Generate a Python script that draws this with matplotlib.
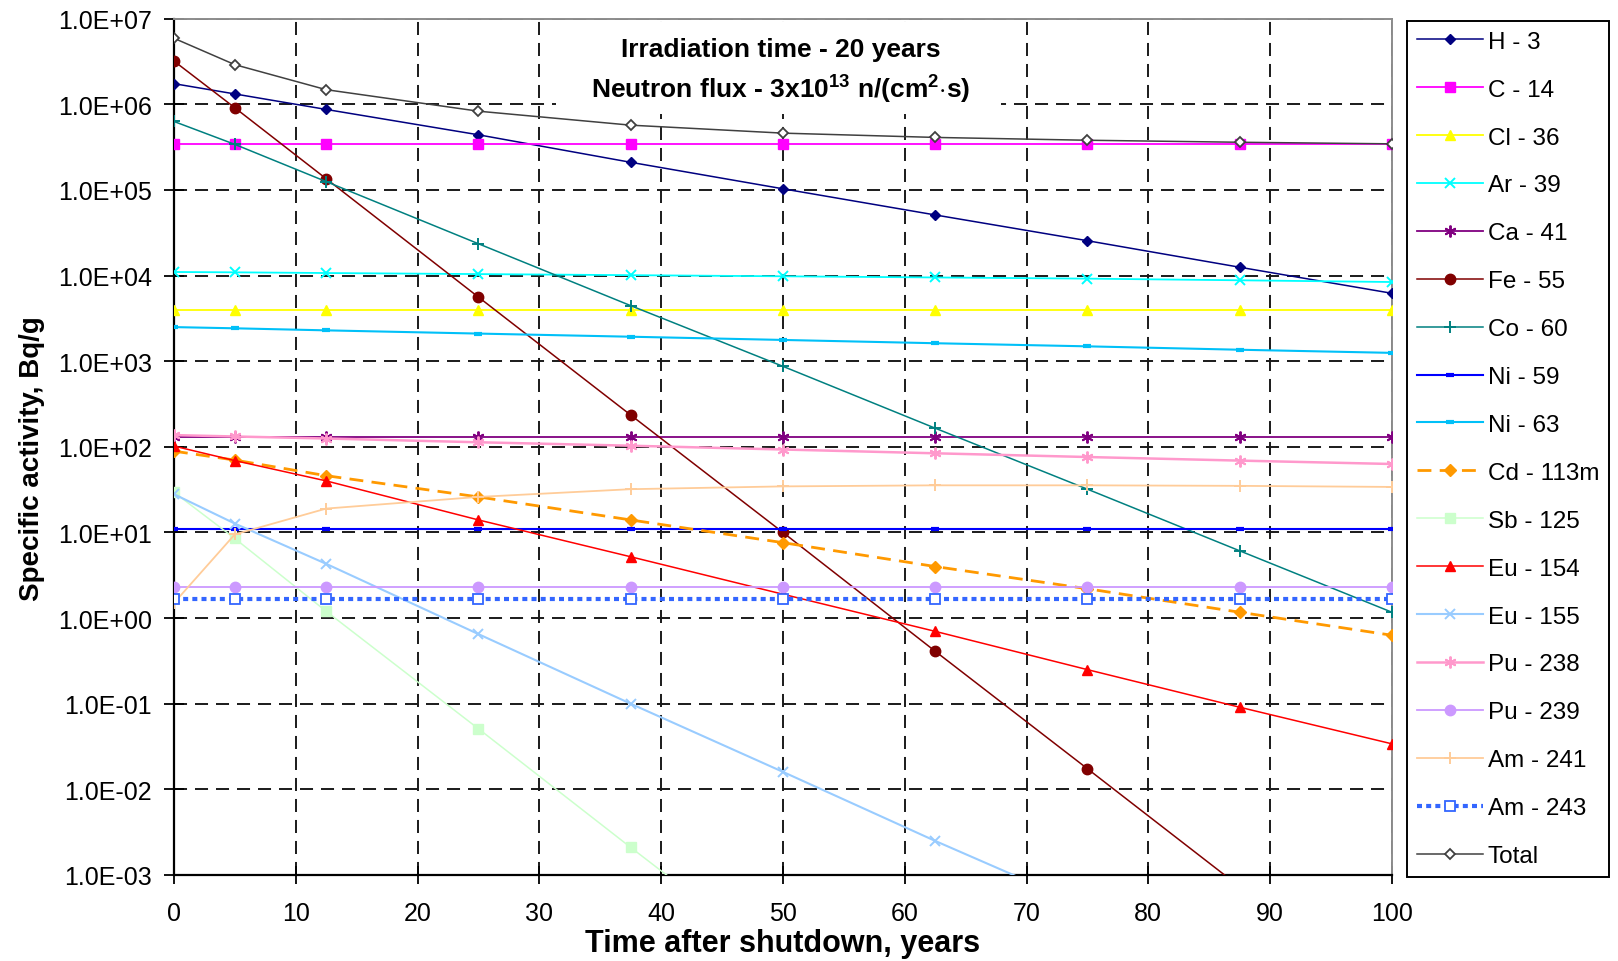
import matplotlib

matplotlib.use("Agg")

import matplotlib.pyplot as plt  # noqa: E402
from matplotlib.patches import Rectangle  # noqa: E402
from matplotlib.ticker import FixedLocator, FuncFormatter, NullLocator  # noqa: E402

plt.rcParams["font.family"] = ["Liberation Sans", "DejaVu Sans"]
plt.rcParams["mathtext.fontset"] = "custom"
plt.rcParams["mathtext.rm"] = "Liberation Sans"
plt.rcParams["mathtext.bf"] = "Liberation Sans:bold"

# ---- data ----
years = [0, 5, 12.5, 25, 37.5, 50, 62.5, 75, 87.5, 100]

h3 = [1.74e6, 1.32e6, 8.7e5, 4.4e5, 2.1e5, 1.03e5, 5.1e4, 2.55e4, 1.25e4, 6.2e3]
c14 = [3.4e5, 3.4e5, 3.4e5, 3.4e5, 3.4e5, 3.4e5, 3.4e5, 3.4e5, 3.4e5, 3.4e5]
cl36 = [4.0e3, 4.0e3, 4.0e3, 4.0e3, 4.0e3, 4.0e3, 4.0e3, 4.0e3, 4.0e3, 4.0e3]
ar39 = [1.1e4, 1.09e4, 1.07e4, 1.04e4, 1.01e4, 9.8e3, 9.5e3, 9.2e3, 8.8e3, 8.4e3]
ca41 = [130, 130, 130, 130, 130, 130, 130, 130, 130, 130]
fe55 = [3.2e6, 9.1e5, 1.35e5, 5.6e3, 2.35e2, 10.0, 0.41, 0.0174, 7.3e-4, 3.1e-5]
co60 = [6.3e5, 3.4e5, 1.25e5, 2.35e4, 4.45e3, 8.7e2, 1.65e2, 32, 6.1, 1.17]
ni59 = [11, 11, 11, 11, 11, 11, 11, 11, 11, 11]
ni63 = [2.5e3, 2.42e3, 2.29e3, 2.1e3, 1.93e3, 1.77e3, 1.62e3, 1.49e3, 1.36e3, 1.25e3]
cd113m = [89, 70, 46, 26, 14, 7.6, 4.0, 2.2, 1.17, 0.63]
sb125 = [29.5, 8.5, 1.2, 0.051, 2.1e-3, 9e-5, 4e-6, 1.7e-7, 7e-9, 3e-10]
eu154 = [102, 69, 40, 14, 5.2, 1.9, 0.70, 0.25, 0.091, 0.034]
eu155 = [28, 12.7, 4.3, 0.65, 0.10, 0.016, 2.5e-3, 4.2e-4, 6.8e-5, 1.1e-5]
pu238 = [137, 132, 125, 113, 103, 93, 84, 76, 69, 63]
pu239 = [2.3, 2.3, 2.3, 2.3, 2.3, 2.3, 2.3, 2.3, 2.3, 2.3]
am241 = [1.5, 9.5, 19, 26, 32, 34.5, 35.5, 35.5, 35, 34]
am243 = [1.65, 1.65, 1.65, 1.65, 1.65, 1.65, 1.65, 1.65, 1.65, 1.65]
total = [5.9e6, 2.9e6, 1.48e6, 8.3e5, 5.7e5, 4.6e5, 4.1e5, 3.8e5, 3.6e5, 3.45e5]

y_ticks = [1e-3, 1e-2, 1e-1, 1e0, 1e1, 1e2, 1e3, 1e4, 1e5, 1e6, 1e7]
x_ticks = [0, 10, 20, 30, 40, 50, 60, 70, 80, 90, 100]

ASTER = (6, 2, 0)

# label, values, color, marker, linestyle, linewidth, markersize, open marker
series = [
    ("H - 3", h3, "#000080", "D", "-", 1.1, 5.5, False),
    ("C - 14", c14, "#FF00FF", "s", "-", 1.3, 7, False),
    ("Cl - 36", cl36, "#FFFF00", "^", "-", 1.3, 7.5, False),
    ("Ar - 39", ar39, "#00FFFF", "x", "-", 1.3, 7, False),
    ("Ca - 41", ca41, "#800080", ASTER, "-", 1.3, 8.5, False),
    ("Fe - 55", fe55, "#800000", "o", "-", 1.1, 7.5, False),
    ("Co - 60", co60, "#008080", "+", "-", 1.1, 9, False),
    ("Ni - 59", ni59, "#0000FF", "_", "-", 1.5, 6, False),
    ("Ni - 63", ni63, "#00C0F8", "_", "-", 1.5, 6, False),
    ("Cd - 113m", cd113m, "#FF9900", "D", "--", 2.0, 6.5, False),
    ("Sb - 125", sb125, "#CCFFCC", "s", "-", 1.1, 7.5, False),
    ("Eu - 154", eu154, "#FF0000", "^", "-", 1.1, 7.5, False),
    ("Eu - 155", eu155, "#99CCFF", "x", "-", 1.5, 7, False),
    ("Pu - 238", pu238, "#FF99CC", ASTER, "-", 1.8, 8.5, False),
    ("Pu - 239", pu239, "#CC99FF", "o", "-", 1.3, 7.5, False),
    ("Am - 241", am241, "#FFCC99", "+", "-", 1.3, 9, False),
    ("Am - 243", am243, "#3366FF", "s", ":", 3.0, 7, True),
    ("Total", total, "#404040", "D", "-", 1.1, 5.5, True),
]

fig = plt.figure(figsize=(16.18, 9.62), dpi=100)
fig.patch.set_facecolor("white")
ax = fig.add_axes([0.1075, 0.0894, 0.7528, 0.8902])

handles = []
for label, vals, color, marker, ls, lw, ms, hollow in series:
    kw = dict(color=color, marker=marker, linestyle=ls, linewidth=lw, markersize=ms,
              markeredgecolor=color, label=label, zorder=3, clip_on=True)
    if hollow:
        kw["markerfacecolor"] = "white"
        kw["markeredgewidth"] = 1.3
    if marker in ("x", "+", ASTER):
        kw["markeredgewidth"] = 1.4
    if marker == "_":
        kw["markeredgewidth"] = 3
    if ls == "--":
        kw["dashes"] = (5, 3)
    if ls == ":":
        kw["dashes"] = (1.2, 1.0)
    (h,) = ax.plot(years, vals, **kw)
    handles.append(h)


def _sci(v, _pos):
    mant, exp = "{:.1E}".format(v).split("E")
    sign = "-" if int(exp) < 0 else "+"
    return "{}E{}{:02d}".format(mant, sign, abs(int(exp)))


ax.set_yscale("log")
ax.set_xlim(0, 100)
ax.set_ylim(1e-3, 1e7)
ax.yaxis.set_major_locator(FixedLocator(y_ticks))
ax.yaxis.set_minor_locator(NullLocator())
ax.yaxis.set_major_formatter(FuncFormatter(_sci))
ax.set_xticks(x_ticks)

ax.set_axisbelow(True)
ax.grid(True, which="major", color="#1A1A1A", linestyle=(0, (6.7, 4.1)), linewidth=1.4)
ax.tick_params(axis="y", direction="inout", length=14, width=1.3, labelsize=18,
               colors="black", pad=9)
ax.tick_params(axis="x", direction="inout", length=13, width=1.3, labelsize=18,
               colors="black", pad=12)

for side in ("left", "bottom"):
    ax.spines[side].set_color("black")
    ax.spines[side].set_linewidth(1.6)
for side in ("top", "right"):
    ax.spines[side].set_color("#8C8C8C")
    ax.spines[side].set_linewidth(1.4)

ax.set_xlabel("Time after shutdown, years", fontsize=22, fontweight="bold")
ax.set_ylabel("Specific activity, Bq/g", fontsize=20, fontweight="bold")
ax.xaxis.set_label_coords(0.5, -0.062)
ax.yaxis.set_label_coords(-0.106, 0.487)

# white box behind the annotation hides the grid
ax.add_patch(Rectangle((0.314, 0.889), 0.365, 0.107, transform=ax.transAxes,
                       facecolor="white", edgecolor="none", zorder=1))
ax.text(0.4985, 0.964, "Irradiation time - 20 years", transform=ax.transAxes,
        ha="center", va="center", fontsize=19, fontweight="bold", zorder=2)
ax.text(0.4985, 0.920, r"Neutron flux - 3x10$^{\mathbf{13}}$ n/(cm$^{\mathbf{2}}$$\cdot$s)",
        transform=ax.transAxes, ha="center", va="center", fontsize=19,
        fontweight="bold", zorder=2)

leg = fig.legend(handles=handles, loc="upper left", bbox_to_anchor=(1407 / 1618, 1 - 21.5 / 962),
                 bbox_transform=fig.transFigure, borderaxespad=0, numpoints=1,
                 fontsize=17.5, labelspacing=1.065, handlelength=2.7, handletextpad=0.2,
                 borderpad=0.42, fancybox=False, framealpha=1, edgecolor="black")
leg.get_frame().set_linewidth(1.4)

fig.savefig("out.png", dpi=100, facecolor="white")
plt.close(fig)
